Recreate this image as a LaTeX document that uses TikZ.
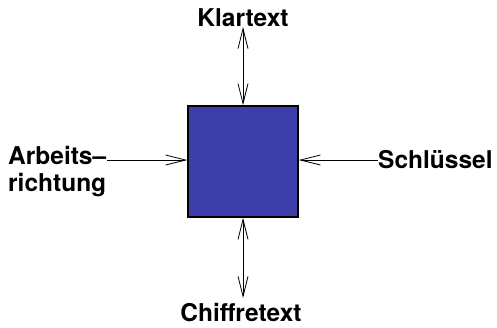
\documentclass[tikz,border=0pt]{standalone}
\usepackage{fontspec}
\setmainfont{TeX Gyre Heros}
\usetikzlibrary{arrows.meta}
\definecolor{boxblue}{RGB}{62,62,170}
\tikzset{
  tip/.tip={Straight Barb[length=20pt,width=10pt,line width=0.8pt]},
  lbl/.style={font=\bfseries\fontsize{24.5}{28}\selectfont, inner sep=0pt},
  flow/.style={line width=0.9pt, {tip}-{tip}},
  into/.style={line width=0.9pt, -{tip}},
}
\begin{document}
\begin{tikzpicture}[x=1pt,y=-1pt]
  \useasboundingbox (0,0) rectangle (497,327);
  % cipher box
  \node[draw=black, line width=1.5pt, fill=boxblue, minimum width=110pt, minimum height=111pt, inner sep=0pt] (box) at (243,161.5) {};
  % labels
  \node[lbl] (klar) at (243,18) {Klartext};
  \node[lbl] (chiffre) at (241,313) {Chiffretext};
  \node[lbl, anchor=west] (schl) at (378,160) {Schlüssel};
  \node[lbl, anchor=north west, align=left] (arb) at (8,146) {Arbeits–\\[-1pt]richtung};
  \coordinate (klarend) at (243,27);
  \coordinate (chiffreend) at (243,298);
  \coordinate (arbend) at (107,160);
  % connectors
  \draw[flow] (klarend) -- (box.north);
  \draw[flow] (box.south) -- (chiffreend);
  \draw[into] (arbend) -- (box.west |- arbend);
  \draw[into] (schl.west |- arbend) -- (box.east |- arbend);
\end{tikzpicture}
\end{document}
